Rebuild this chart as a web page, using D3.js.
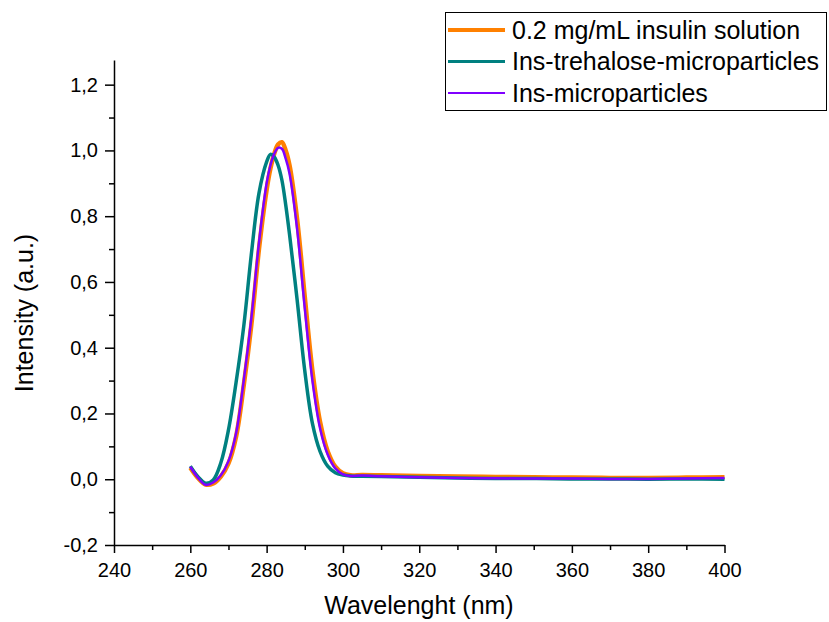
<!DOCTYPE html>
<html>
<head>
<meta charset="utf-8">
<script src="https://cdn.jsdelivr.net/npm/d3@7"></script>
<style>
  body { margin: 0; background: #fff; }
  svg { display: block; font-family: Arial, "Liberation Sans", sans-serif; }
</style>
</head>
<body>
<div id="chart"></div>
<script>
// wavelengths (nm) shared by all three spectra
const wavelength = [260, 262, 264, 266, 268, 270, 272, 274, 276, 278, 280, 281, 282, 283, 284, 285,
  286, 288, 290, 292, 294, 296, 298, 300, 302, 305, 310, 320, 330, 340, 350, 360, 370, 380, 390, 400];

const insulinSolution = [0.035, 0.004, -0.016, -0.013, 0.008, 0.048, 0.13, 0.285, 0.47, 0.70, 0.88, 0.945,
  0.99, 1.018, 1.025, 1.0, 0.955, 0.79, 0.555, 0.33, 0.175, 0.085, 0.038, 0.018, 0.012, 0.013, 0.012,
  0.010, 0.008, 0.007, 0.006, 0.005, 0.004, 0.004, 0.005, 0.006];

const insTrehalose = [0.040, 0.008, -0.012, -0.002, 0.05, 0.15, 0.295, 0.465, 0.685, 0.87, 0.965, 0.988,
  0.98, 0.955, 0.91, 0.835, 0.745, 0.545, 0.33, 0.17, 0.085, 0.04, 0.02, 0.013, 0.010, 0.009, 0.008,
  0.006, 0.004, 0.002, 0.002, 0.001, 0.001, 0.000, 0.001, 0.000];

const insMicro = [0.038, 0.005, -0.017, -0.010, 0.012, 0.055, 0.14, 0.30, 0.49, 0.72, 0.90, 0.955,
  0.99, 1.008, 1.005, 0.975, 0.93, 0.76, 0.52, 0.30, 0.155, 0.075, 0.033, 0.015, 0.010, 0.011, 0.009,
  0.006, 0.004, 0.003, 0.002, 0.002, 0.001, 0.001, 0.002, 0.004];

const seriesNames = ["0.2 mg/mL insulin solution", "Ins-trehalose-microparticles", "Ins-microparticles"];
const seriesColors = ["#ff8000", "#008080", "#8000ff"];
const xTicks = [240, 260, 280, 300, 320, 340, 360, 380, 400];
const yTicks = [-0.2, 0, 0.2, 0.4, 0.6, 0.8, 1.0, 1.2];

class SpectrumChart {
  constructor(_config, _data) {
    this.config = {
      parentElement: _config.parentElement,
      containerWidth: _config.containerWidth || 829,
      containerHeight: _config.containerHeight || 622,
      lineWidths: [4.5, 3.5, 2.5],
      legendWidths: [4, 3, 2],
    };
    this.data = _data;
    this.initVis();
  }

  initVis() {
    let vis = this;

    vis.svg = d3
      .select(vis.config.parentElement)
      .append("svg")
      .attr("width", vis.config.containerWidth)
      .attr("height", vis.config.containerHeight);

    vis.xScale = d3.scaleLinear().domain([240, 400]).range([114, 724.5]);
    vis.yScale = d3.scaleLinear().domain([-0.2, 1.275]).range([545, 60]);

    vis.chart = vis.svg.append("g");
    vis.updateVis();
  }

  updateVis() {
    let vis = this;
    vis.lines = vis.data.map((values) =>
      wavelength.map((w, i) => ({ x: w, y: values[i] }))
    );
    vis.renderVis();
  }

  renderVis() {
    let vis = this;
    const comma = (d) => d3.format(".1f")(d).replace(".", ",").replace("−", "-");

    // minor ticks first so the major ones sit on top
    vis.chart
      .append("g")
      .attr("transform", `translate(0,${vis.yScale(-0.2)})`)
      .call(d3.axisBottom(vis.xScale).tickValues(d3.range(250, 400, 20)).tickSize(5).tickFormat(""))
      .call((g) => g.select(".domain").remove());
    vis.chart
      .append("g")
      .attr("transform", `translate(${vis.xScale(240)},0)`)
      .call(d3.axisLeft(vis.yScale).tickValues(d3.range(-0.1, 1.25, 0.2)).tickSize(5).tickFormat(""))
      .call((g) => g.select(".domain").remove());

    const xAxis = vis.chart
      .append("g")
      .attr("transform", `translate(0,${vis.yScale(-0.2)})`)
      .call(d3.axisBottom(vis.xScale).tickValues(xTicks).tickSize(8).tickPadding(10).tickSizeOuter(0));
    xAxis.selectAll("text").attr("font-size", 20).attr("fill", "#000");

    const yAxis = vis.chart
      .append("g")
      .attr("transform", `translate(${vis.xScale(240)},0)`)
      .call(d3.axisLeft(vis.yScale).tickValues(yTicks).tickSize(9).tickPadding(7).tickSizeOuter(0).tickFormat(comma));
    yAxis.selectAll("text").attr("font-size", 20).attr("fill", "#000");

    vis.chart.selectAll(".domain").attr("stroke", "#000").attr("stroke-width", 1.5);
    vis.chart.selectAll(".tick line").attr("stroke", "#000").attr("stroke-width", 1.5);

    // axis titles
    vis.svg
      .append("text")
      .attr("x", 419)
      .attr("y", 614)
      .attr("text-anchor", "middle")
      .attr("font-size", 25)
      .text("Wavelenght (nm)");
    vis.svg
      .append("text")
      .attr("transform", "translate(33,313) rotate(-90)")
      .attr("text-anchor", "middle")
      .attr("font-size", 25)
      .text("Intensity (a.u.)");

    const line = d3
      .line()
      .x((d) => vis.xScale(d.x))
      .y((d) => vis.yScale(d.y))
      .curve(d3.curveCatmullRom);

    vis.chart
      .append("g")
      .selectAll("path")
      .data(vis.lines)
      .join("path")
      .attr("d", line)
      .attr("fill", "none")
      .attr("stroke", (d, i) => seriesColors[i])
      .attr("stroke-width", (d, i) => vis.config.lineWidths[i])
      .attr("stroke-linejoin", "round");

    // legend
    const legend = vis.svg.append("g");
    legend
      .append("rect")
      .attr("x", 445.5)
      .attr("y", 12.5)
      .attr("width", 381)
      .attr("height", 98)
      .attr("fill", "#fff")
      .attr("stroke", "#000")
      .attr("stroke-width", 1);

    const rows = legend
      .selectAll(".legend-row")
      .data(seriesNames)
      .join("g")
      .attr("class", "legend-row")
      .attr("transform", (d, i) => `translate(0,${30 + i * 31.5})`);
    rows
      .append("line")
      .attr("x1", 448)
      .attr("x2", 505)
      .attr("stroke", (d, i) => seriesColors[i])
      .attr("stroke-width", (d, i) => vis.config.legendWidths[i]);
    rows
      .append("text")
      .attr("x", 512)
      .attr("dy", "0.35em")
      .attr("font-size", 25)
      .text((d) => d);
  }
}

new SpectrumChart({ parentElement: "#chart" }, [insulinSolution, insTrehalose, insMicro]);
</script>
</body>
</html>
